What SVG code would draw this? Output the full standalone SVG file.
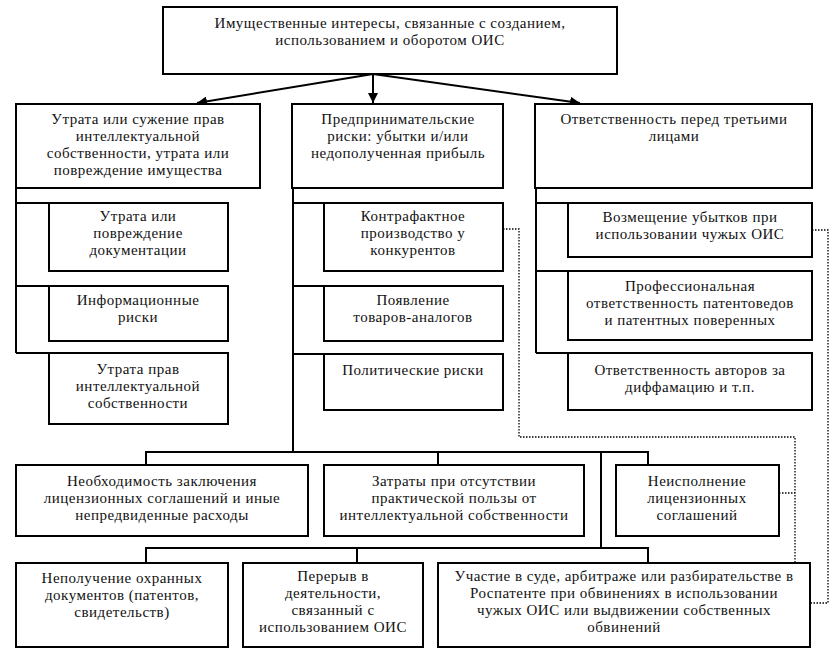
<svg xmlns="http://www.w3.org/2000/svg" width="836" height="659" viewBox="0 0 836 659">
<style>
.b{fill:#fff;stroke:#000;stroke-width:2}
.t{font-family:"Liberation Serif","Times New Roman",serif;font-size:15px;letter-spacing:0.5px;fill:#111;text-anchor:middle}
.c{fill:none;stroke:#000;stroke-width:2}
.d{fill:none;stroke:#000;stroke-width:1.3;stroke-dasharray:1.5 1.5}
</style>
<defs>
<marker id="ah" viewBox="0 0 10 10" refX="10" refY="5" markerWidth="10" markerHeight="10" markerUnits="userSpaceOnUse" orient="auto">
<path d="M0,0 L10,5 L0,10 Z" fill="#000"/>
</marker>
</defs>
<rect width="836" height="659" fill="#fff"/>
<g id="connectors">
<line class="c" x1="373" y1="74" x2="197" y2="103" marker-end="url(#ah)"/>
<line class="c" x1="373" y1="74" x2="373" y2="103" marker-end="url(#ah)"/>
<line class="c" x1="373" y1="74" x2="580" y2="103" marker-end="url(#ah)"/>
<path class="c" d="M16,188 V353 M16,203 H49 M16,286 H49 M16,353 H49"/>
<path class="c" d="M293,188 V452 M293,203 H324 M293,286 H324 M293,354 H324"/>
<path class="c" d="M536,188 V353 M536,203 H568 M536,271 H568 M536,353 H568"/>
<path class="c" d="M146,465 V452 H648 V465 M438,452 V465 M601,452 V548 M146,563 V548 H648 V563 M357,548 V563"/>
<path class="d" d="M503,229 H519 V437 H795 V563 M779,493 H795"/>
<path class="d" d="M812,230 H828 V603 H810"/>
</g>
<g id="top"><rect class="b" x="163" y="7" width="454" height="67"/>
<text class="t" x="390" y="28">Имущественные интересы, связанные с созданием,</text>
<text class="t" x="390" y="45">использованием и оборотом ОИС</text></g>
<g id="l1"><rect class="b" x="16" y="104" width="244" height="84"/>
<text class="t" x="138" y="124">Утрата или сужение прав</text>
<text class="t" x="138" y="141">интеллектуальной</text>
<text class="t" x="138" y="158">собственности, утрата или</text>
<text class="t" x="138" y="175">повреждение имущества</text></g>
<g id="m1"><rect class="b" x="292" y="104" width="211" height="84"/>
<text class="t" x="398" y="124">Предпринимательские</text>
<text class="t" x="398" y="141">риски: убытки и/или</text>
<text class="t" x="398" y="158">недополученная прибыль</text></g>
<g id="r1"><rect class="b" x="535" y="104" width="277" height="84"/>
<text class="t" x="674" y="124">Ответственность перед третьими</text>
<text class="t" x="674" y="141">лицами</text></g>
<g id="lc1"><rect class="b" x="49" y="203" width="179" height="68"/>
<text class="t" x="138" y="221">Утрата или</text>
<text class="t" x="138" y="238">повреждение</text>
<text class="t" x="138" y="255">документации</text></g>
<g id="lc2"><rect class="b" x="49" y="286" width="179" height="55"/>
<text class="t" x="138" y="305">Информационные</text>
<text class="t" x="138" y="322">риски</text></g>
<g id="lc3"><rect class="b" x="49" y="353" width="179" height="71"/>
<text class="t" x="138" y="374">Утрата прав</text>
<text class="t" x="138" y="391">интеллектуальной</text>
<text class="t" x="138" y="408">собственности</text></g>
<g id="mc1"><rect class="b" x="324" y="203" width="179" height="68"/>
<text class="t" x="413" y="221">Контрафактное</text>
<text class="t" x="413" y="238">производство у</text>
<text class="t" x="413" y="255">конкурентов</text></g>
<g id="mc2"><rect class="b" x="324" y="286" width="179" height="55"/>
<text class="t" x="413" y="305">Появление</text>
<text class="t" x="413" y="322">товаров-аналогов</text></g>
<g id="mc3"><rect class="b" x="324" y="354" width="179" height="56"/>
<text class="t" x="413" y="375">Политические риски</text></g>
<g id="rc1"><rect class="b" x="568" y="203" width="244" height="54"/>
<text class="t" x="690" y="222">Возмещение убытков при</text>
<text class="t" x="690" y="239">использовании чужых ОИС</text></g>
<g id="rc2"><rect class="b" x="568" y="271" width="244" height="69"/>
<text class="t" x="690" y="291">Профессиональная</text>
<text class="t" x="690" y="308">ответственность патентоведов</text>
<text class="t" x="690" y="325">и патентных поверенных</text></g>
<g id="rc3"><rect class="b" x="568" y="353" width="244" height="57"/>
<text class="t" x="690" y="375">Ответственность авторов за</text>
<text class="t" x="690" y="392">диффамацию и т.п.</text></g>
<g id="b1"><rect class="b" x="16" y="465" width="292" height="71"/>
<text class="t" x="162" y="486">Необходимость заключения</text>
<text class="t" x="162" y="503">лицензионных соглашений и иные</text>
<text class="t" x="162" y="520">непредвиденные расходы</text></g>
<g id="b2"><rect class="b" x="324" y="465" width="260" height="71"/>
<text class="t" x="454" y="486">Затраты при отсутствии</text>
<text class="t" x="454" y="503">практической пользы от</text>
<text class="t" x="454" y="520">интеллектуальной собственности</text></g>
<g id="b3"><rect class="b" x="616" y="465" width="163" height="71"/>
<text class="t" x="697" y="486">Неисполнение</text>
<text class="t" x="697" y="503">лицензионных</text>
<text class="t" x="697" y="520">соглашений</text></g>
<g id="b4"><rect class="b" x="16" y="563" width="212" height="84"/>
<text class="t" x="122" y="583">Неполучение охранных</text>
<text class="t" x="122" y="600">документов (патентов,</text>
<text class="t" x="122" y="617">свидетельств)</text></g>
<g id="b5"><rect class="b" x="243" y="563" width="180" height="84"/>
<text class="t" x="333" y="581">Перерыв в</text>
<text class="t" x="333" y="598">деятельности,</text>
<text class="t" x="333" y="615">связанный с</text>
<text class="t" x="333" y="632">использованием ОИС</text></g>
<g id="b6"><rect class="b" x="438" y="563" width="372" height="84"/>
<text class="t" x="624" y="581">Участие в суде, арбитраже или разбирательстве в</text>
<text class="t" x="624" y="598">Роспатенте при обвинениях в использовании</text>
<text class="t" x="624" y="615">чужых ОИС или выдвижении собственных</text>
<text class="t" x="624" y="632">обвинений</text></g>
</svg>
